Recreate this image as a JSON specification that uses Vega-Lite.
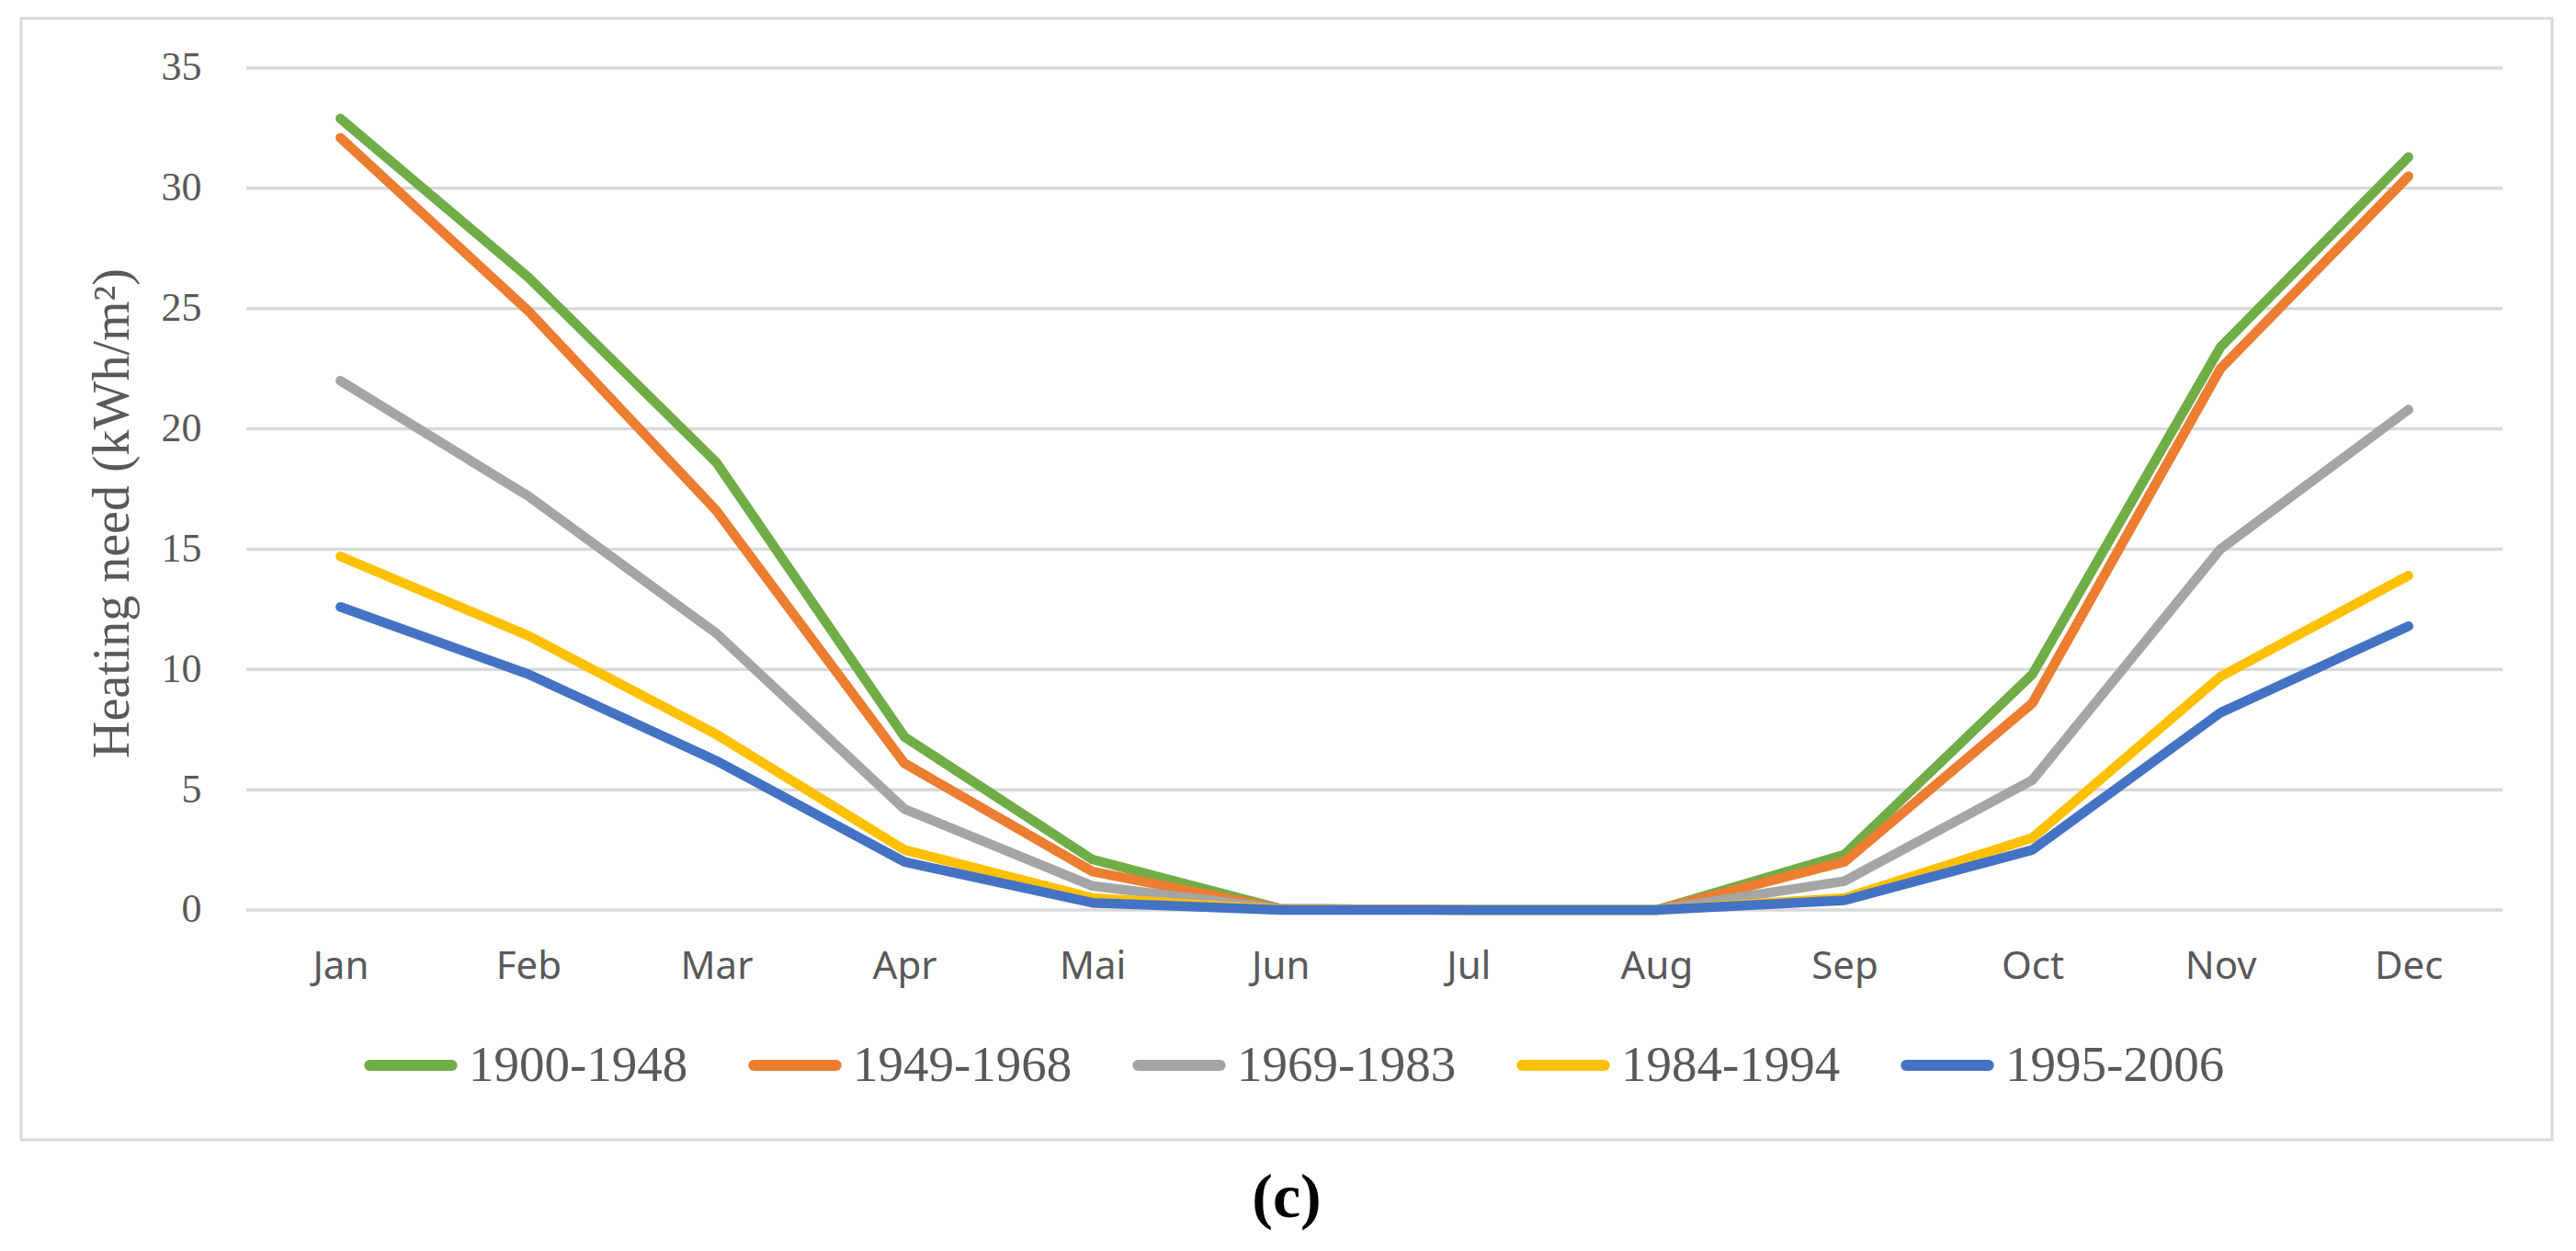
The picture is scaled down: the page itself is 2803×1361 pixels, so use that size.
{
  "$schema": "https://vega.github.io/schema/vega-lite/v6.json",
  "width": 2754,
  "height": 1220,
  "autosize": {"type": "none"},
  "padding": {"left": 23, "top": 20, "right": 26, "bottom": 121},
  "background": "white",
  "config": {"view": {"stroke": "#D9D9D9", "strokeWidth": 3}},
  "title": {
    "text": "(c)",
    "orient": "bottom",
    "anchor": "middle",
    "font": "Liberation Serif",
    "fontSize": 68,
    "fontWeight": "bold",
    "color": "black",
    "offset": 30
  },
  "datasets": {
    "grid": [{"v": 0}, {"v": 5}, {"v": 10}, {"v": 15}, {"v": 20}, {"v": 25}, {"v": 30}, {"v": 35}],
    "heat": [
      {"m": 1, "period": "1900-1948", "value": 32.9},
      {"m": 2, "period": "1900-1948", "value": 26.3},
      {"m": 3, "period": "1900-1948", "value": 18.6},
      {"m": 4, "period": "1900-1948", "value": 7.2},
      {"m": 5, "period": "1900-1948", "value": 2.1},
      {"m": 6, "period": "1900-1948", "value": 0.05},
      {"m": 7, "period": "1900-1948", "value": 0},
      {"m": 8, "period": "1900-1948", "value": 0},
      {"m": 9, "period": "1900-1948", "value": 2.3},
      {"m": 10, "period": "1900-1948", "value": 9.8},
      {"m": 11, "period": "1900-1948", "value": 23.4},
      {"m": 12, "period": "1900-1948", "value": 31.3},
      {"m": 1, "period": "1949-1968", "value": 32.1},
      {"m": 2, "period": "1949-1968", "value": 24.9},
      {"m": 3, "period": "1949-1968", "value": 16.6},
      {"m": 4, "period": "1949-1968", "value": 6.1},
      {"m": 5, "period": "1949-1968", "value": 1.6},
      {"m": 6, "period": "1949-1968", "value": 0.05},
      {"m": 7, "period": "1949-1968", "value": 0},
      {"m": 8, "period": "1949-1968", "value": 0},
      {"m": 9, "period": "1949-1968", "value": 2.0},
      {"m": 10, "period": "1949-1968", "value": 8.6},
      {"m": 11, "period": "1949-1968", "value": 22.5},
      {"m": 12, "period": "1949-1968", "value": 30.5},
      {"m": 1, "period": "1969-1983", "value": 22.0},
      {"m": 2, "period": "1969-1983", "value": 17.2},
      {"m": 3, "period": "1969-1983", "value": 11.5},
      {"m": 4, "period": "1969-1983", "value": 4.2},
      {"m": 5, "period": "1969-1983", "value": 1.0},
      {"m": 6, "period": "1969-1983", "value": 0.05},
      {"m": 7, "period": "1969-1983", "value": 0},
      {"m": 8, "period": "1969-1983", "value": 0},
      {"m": 9, "period": "1969-1983", "value": 1.2},
      {"m": 10, "period": "1969-1983", "value": 5.4},
      {"m": 11, "period": "1969-1983", "value": 15.0},
      {"m": 12, "period": "1969-1983", "value": 20.8},
      {"m": 1, "period": "1984-1994", "value": 14.7},
      {"m": 2, "period": "1984-1994", "value": 11.4},
      {"m": 3, "period": "1984-1994", "value": 7.3},
      {"m": 4, "period": "1984-1994", "value": 2.5},
      {"m": 5, "period": "1984-1994", "value": 0.5},
      {"m": 6, "period": "1984-1994", "value": 0.02},
      {"m": 7, "period": "1984-1994", "value": 0},
      {"m": 8, "period": "1984-1994", "value": 0},
      {"m": 9, "period": "1984-1994", "value": 0.5},
      {"m": 10, "period": "1984-1994", "value": 3.0},
      {"m": 11, "period": "1984-1994", "value": 9.7},
      {"m": 12, "period": "1984-1994", "value": 13.9},
      {"m": 1, "period": "1995-2006", "value": 12.6},
      {"m": 2, "period": "1995-2006", "value": 9.8},
      {"m": 3, "period": "1995-2006", "value": 6.2},
      {"m": 4, "period": "1995-2006", "value": 2.0},
      {"m": 5, "period": "1995-2006", "value": 0.3},
      {"m": 6, "period": "1995-2006", "value": 0},
      {"m": 7, "period": "1995-2006", "value": 0},
      {"m": 8, "period": "1995-2006", "value": 0},
      {"m": 9, "period": "1995-2006", "value": 0.4},
      {"m": 10, "period": "1995-2006", "value": 2.5},
      {"m": 11, "period": "1995-2006", "value": 8.2},
      {"m": 12, "period": "1995-2006", "value": 11.8}
    ]
  },
  "layer": [
    {
      "data": {"name": "grid"},
      "mark": {"type": "rule", "color": "#D9D9D9", "strokeWidth": 3.5},
      "encoding": {
        "y": {"field": "v", "type": "quantitative", "scale": {"domain": [-9.553, 37.063], "nice": false, "zero": false}},
        "x": {"datum": 0.5, "type": "quantitative", "scale": {"domain": [-0.698, 12.764], "nice": false, "zero": false}},
        "x2": {"datum": 12.5}
      }
    },
    {
      "data": {"name": "heat"},
      "mark": {"type": "line", "strokeWidth": 10.5, "strokeCap": "round", "strokeJoin": "round"},
      "encoding": {
        "x": {
          "field": "m",
          "type": "quantitative",
          "scale": {"domain": [-0.698, 12.764], "nice": false, "zero": false},
          "axis": {
            "values": [1, 2, 3, 4, 5, 6, 7, 8, 9, 10, 11, 12],
            "labelExpr": "['','Jan','Feb','Mar','Apr','Mai','Jun','Jul','Aug','Sep','Oct','Nov','Dec'][datum.value]",
            "orient": "bottom",
            "offset": -189,
            "domain": false,
            "ticks": false,
            "grid": false,
            "labelPadding": 0,
            "labelBaseline": "middle",
            "labelFont": "Noto Sans",
            "labelFontSize": 42,
            "labelColor": "#595959",
            "labelFlush": false,
            "labelOverlap": false,
            "title": null
          }
        },
        "y": {
          "field": "value",
          "type": "quantitative",
          "scale": {"domain": [-9.553, 37.063], "nice": false, "zero": false},
          "axis": {
            "values": [0, 5, 10, 15, 20, 25, 30, 35],
            "orient": "left",
            "offset": -196,
            "domain": false,
            "ticks": false,
            "grid": false,
            "labelPadding": 0,
            "labelFont": "Liberation Serif",
            "labelFontSize": 44,
            "labelColor": "#595959",
            "labelFlush": false,
            "labelOverlap": false,
            "title": "Heating need (kWh/m²)",
            "titleFont": "Liberation Serif",
            "titleFontSize": 56,
            "titleFontWeight": "normal",
            "titleColor": "#595959",
            "titleX": -97,
            "titleY": 538,
            "titleBaseline": "middle"
          }
        },
        "color": {
          "field": "period",
          "type": "nominal",
          "scale": {
            "domain": ["1900-1948", "1949-1968", "1969-1983", "1984-1994", "1995-2006"],
            "range": ["#70AD47", "#ED7D31", "#A5A5A5", "#FFC000", "#4472C4"]
          },
          "legend": {
            "orient": "none",
            "legendX": 373,
            "legendY": 1088,
            "direction": "horizontal",
            "title": null,
            "padding": 0,
            "symbolType": "stroke",
            "symbolSize": 8000,
            "symbolStrokeWidth": 12,
            "labelFont": "Liberation Serif",
            "labelFontSize": 55,
            "labelColor": "#595959",
            "labelOffset": 12,
            "labelLimit": 500,
            "columnPadding": 47,
            "encode": {"symbols": {"update": {"strokeCap": {"value": "round"}}}}
          }
        }
      }
    }
  ]
}
